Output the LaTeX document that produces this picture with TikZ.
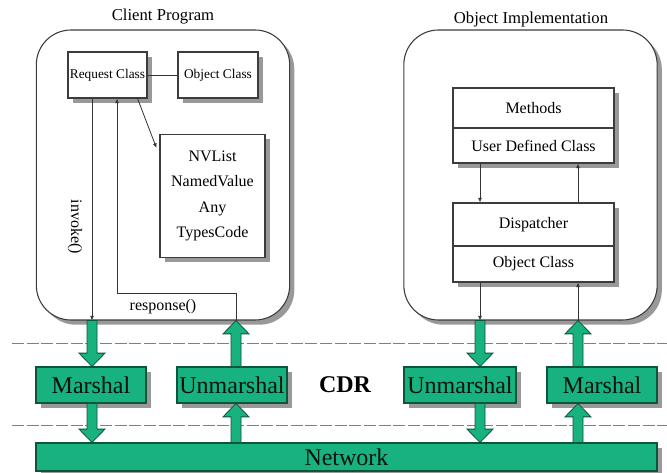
\documentclass[tikz,border=0pt]{standalone}
\usepackage{fontspec}
\setmainfont{Liberation Serif}
\usetikzlibrary{arrows.meta}
\usetikzlibrary{calc}
\usetikzlibrary{shadows}

\definecolor{cdrgreen}{RGB}{24,178,128}
\definecolor{cdrdark}{RGB}{12,84,58}
\definecolor{boxline}{RGB}{60,60,60}

\tikzset{
  boxshadow/.style={drop shadow={shadow xshift=3.5pt,shadow yshift=-3.5pt,fill=black!40,opacity=1}},
  progbox/.style={draw=boxline,line width=0.8pt,rounded corners=26pt,fill=white,boxshadow,
    minimum width=190pt,minimum height=217.5pt},
  classbox/.style={draw=boxline,line width=0.8pt,fill=white,boxshadow,inner sep=0pt,
    font=\fontsize{10}{12}\selectfont},
  partbox/.style={draw=boxline,line width=0.8pt,fill=white,boxshadow,inner sep=0pt,
    minimum width=120.75pt,font=\fontsize{12}{14}\selectfont},
  cdrbox/.style={draw=cdrdark,line width=0.8pt,fill=cdrgreen,boxshadow,inner sep=0pt,
    minimum height=27pt,minimum width=82.5pt,text=black!80!cdrdark,font=\fontsize{18}{20}\selectfont},
  title/.style={font=\fontsize{12.5}{14}\selectfont},
  calltext/.style={font=\fontsize{12}{14}\selectfont},
  call/.style={draw=black!80,line width=0.6pt,-{Latex[length=3.5pt,width=3pt]}},
  cdrarrow/.style={draw=cdrdark,line width=0.6pt,fill=cdrgreen},
  layer/.style={draw=black!50,dash pattern=on 9pt off 2pt,line width=0.6pt}
}

% fat green arrow between two points on one vertical line
\newcommand{\fatarrow}[2]{%
  \path[cdrarrow] let \p1=(#1), \p2=(#2), \p3=($(#2)!10pt!(#1)$) in
    (\x1-3.75pt,\y1) -- (\x1+3.75pt,\y1) -- (\x1+3.75pt,\y3) -- (\x1+9.75pt,\y3)
    -- (\x1,\y2) -- (\x1-9.75pt,\y3) -- (\x1-3.75pt,\y3) -- cycle;}

\begin{document}
\begin{tikzpicture}[x=0.75pt,y=-0.75pt]
    \useasboundingbox (0,0) rectangle (667,473);

    % the two programs
    \node[progbox] (client) at (163,175) {};
    \node[title] (clientlbl) at (163,17) {Client Program};
    \node[progbox] (impl) at (530.5,175) {};
    \node[title] (impllbl) at (531,19) {Object Implementation};

    \node[classbox,minimum width=59.25pt,minimum height=34.5pt] (req) at (107.5,75) {Request Class};
    \node[classbox,minimum width=60pt,minimum height=34.5pt] (obj) at (218,75) {Object Class};
    \node[classbox,minimum width=78.75pt,minimum height=92.25pt,align=center,
          font=\fontsize{12}{19}\selectfont] (nvl) at (212.5,196) {NVList\\NamedValue\\Any\\TypesCode};

    \node[partbox,minimum height=30pt] (meth) at (533.5,108) {Methods};
    \node[partbox,minimum height=26.25pt] (udc) at (533.5,145.5) {User Defined Class};
    \node[partbox,minimum height=32.25pt] (disp) at (533.5,224.5) {Dispatcher};
    \node[partbox,minimum height=27pt] (objc) at (533.5,264) {Object Class};

    % columns of the calls
    \coordinate (invk) at (92,0);
    \coordinate (resp) at (236,293);
    \coordinate (ret) at (117,0);
    \coordinate (down) at (480,0);
    \coordinate (up) at (578,0);

    \draw[black!80,line width=0.6pt] (req.east) -- (obj.west);
    \draw[call] ($(req.south east)+(-10,0)$) -- ($(nvl.north west)+(-3,14)$);
    \draw[call] (invk |- req.south) -- (invk |- client.south);
    \draw[call] (resp |- client.south) -- (resp) -- (ret |- resp) -- (ret |- req.south);
    \node[calltext,rotate=-90] (invlbl) at (75,227) {invoke()};
    \node[calltext] (resplbl) at (163,307) {response()};

    \draw[call] (down |- udc.south) -- (down |- disp.north);
    \draw[call] (up |- disp.north) -- (up |- udc.south);
    \draw[call] (down |- objc.south) -- (down |- impl.south);
    \draw[call] (up |- impl.south) -- (up |- objc.south);

    % CDR layer
    \draw[layer] (12,343) -- (667,343);
    \draw[layer] (12,425) -- (667,425);
    \node[font=\bfseries\fontsize{18}{20}\selectfont] (cdr) at (345,385) {CDR};

    \node[cdrbox] (marL) at (91,385) {Marshal};
    \node[cdrbox] (unL) at (232,385) {Unmarshal};
    \node[cdrbox,minimum width=84pt] (unR) at (460,385) {Unmarshal};
    \node[cdrbox] (marR) at (602,385) {Marshal};
    \node[cdrbox,minimum width=465.75pt,minimum height=21pt] (net) at (346.5,457) {Network};

    \fatarrow{invk |- client.south}{invk |- marL.north}
    \fatarrow{invk |- marL.south}{invk |- net.north}
    \fatarrow{resp |- net.north}{resp |- unL.south}
    \fatarrow{resp |- unL.north}{resp |- client.south}
    \fatarrow{down |- impl.south}{down |- unR.north}
    \fatarrow{down |- unR.south}{down |- net.north}
    \fatarrow{up |- net.north}{up |- marR.south}
    \fatarrow{up |- marR.north}{up |- impl.south}

\end{tikzpicture}
\end{document}
